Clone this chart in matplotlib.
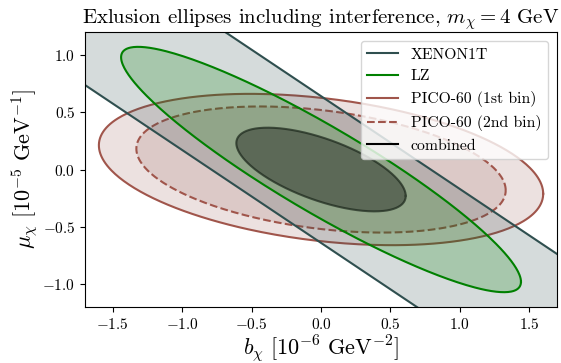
import numpy as np
import matplotlib
matplotlib.use("Agg")
import matplotlib.pyplot as plt

plt.rcParams['font.family'] = 'serif'
plt.rcParams['font.serif'] = ['cmr10']
plt.rcParams['mathtext.fontset'] = 'cm'
plt.rcParams['axes.formatter.use_mathtext'] = True

# Data
# XENON1T band: mu = slope*b +/- half_width
xenon_slope = -0.81
xenon_halfwidth = 0.64
# ellipses: (half extent in b, half extent in mu, correlation)
lz_ell = (1.44, 1.07, -0.915)
pico1_ell = (1.60, 0.66, -0.32)
pico2_ell = (1.33, 0.55, -0.33)
comb_ell = (0.61, 0.365, -0.63)

xticks = [-1.5, -1.0, -0.5, 0.0, 0.5, 1.0, 1.5]
yticks = [-1.0, -0.5, 0.0, 0.5, 1.0]

def ellipse(sx, sy, rho, n=400):
    cov = np.array([[sx**2, rho*sx*sy], [rho*sx*sy, sy**2]])
    L = np.linalg.cholesky(cov)
    t = np.linspace(0, 2*np.pi, n)
    pts = L @ np.vstack([np.cos(t), np.sin(t)])
    return pts[0], pts[1]

fig = plt.figure(figsize=(5.61, 3.63), dpi=100)
ax = fig.add_axes([0.1515, 0.154, 0.8415, 0.758])

c_xe = '#2f4f4f'
c_lz = '#008000'
c_pico = '#a0554b'
c_pico_fill = '#a06964'

handles = {}

x, y = ellipse(*pico1_ell)
ax.fill(x, y, color=c_pico_fill, alpha=0.2, lw=0, zorder=1)
handles['p1'], = ax.plot(x, y, color=c_pico, lw=1.5, label='PICO-60 (1st bin)', zorder=1)

x, y = ellipse(*pico2_ell)
ax.fill(x, y, color=c_pico_fill, alpha=0.2, lw=0, zorder=1)
handles['p2'], = ax.plot(x, y, color=c_pico, lw=1.5, ls='--', label='PICO-60 (2nd bin)', zorder=1)

xs = np.linspace(-2, 2, 200)
ax.fill_between(xs, xenon_slope*xs - xenon_halfwidth, xenon_slope*xs + xenon_halfwidth,
                color=c_xe, alpha=0.2, lw=0, zorder=2)
handles['xe'], = ax.plot(xs, xenon_slope*xs + xenon_halfwidth, color=c_xe, lw=1.5,
                         label='XENON1T', zorder=2)
ax.plot(xs, xenon_slope*xs - xenon_halfwidth, color=c_xe, lw=1.5, zorder=2)

x, y = ellipse(*lz_ell)
ax.fill(x, y, color=c_lz, alpha=0.21, lw=0, zorder=3)
handles['lz'], = ax.plot(x, y, color=c_lz, lw=1.5, label='LZ', zorder=3)

x, y = ellipse(*comb_ell)
ax.fill(x, y, color='black', alpha=0.36, lw=0, zorder=4)
ax.plot(x, y, color='#1a261a', lw=1.5, alpha=0.7, zorder=4)
handles['c'], = ax.plot([], [], color='black', lw=1.5, label='combined')

ax.set_xlim(-1.7, 1.7)
ax.set_ylim(-1.2, 1.2)
ax.set_xticks(xticks)
ax.set_yticks(yticks)
ax.tick_params(labelsize=11)
ax.set_xlabel(r'$b_\chi\ [10^{-6}\ \mathrm{GeV}^{-2}]$', fontsize=16, labelpad=1)
ax.set_ylabel(r'$\mu_\chi\ [10^{-5}\ \mathrm{GeV}^{-1}]$', fontsize=16, labelpad=2)
ax.set_title(r'Exlusion ellipses including interference, $m_\chi = 4$ GeV', fontsize=15, pad=6)
order = ['xe', 'lz', 'p1', 'p2', 'c']
leg = ax.legend([handles[k] for k in order], [handles[k].get_label() for k in order],
                loc='upper right', fontsize=11.3, framealpha=0.8, borderaxespad=0.6)
leg.set_zorder(10)

fig.savefig('out.png', dpi=100)
